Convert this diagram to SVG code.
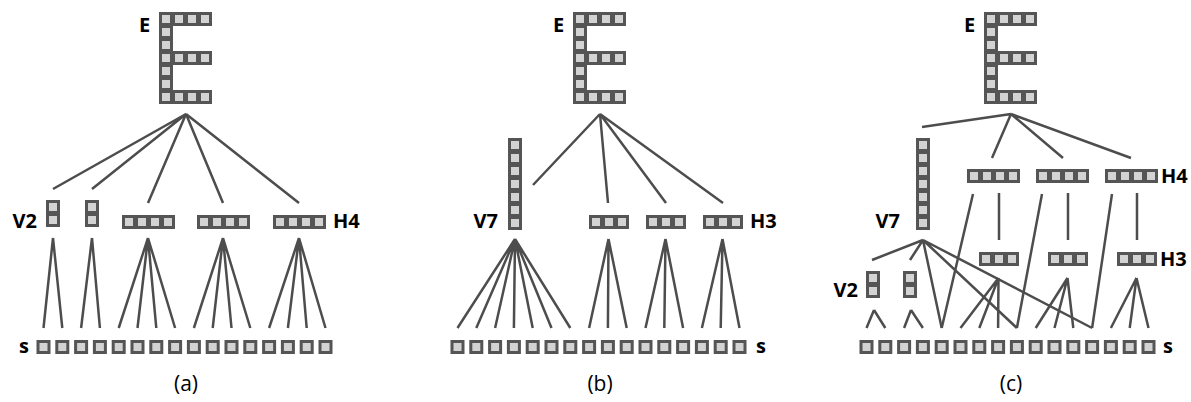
<svg xmlns="http://www.w3.org/2000/svg" xmlns:xlink="http://www.w3.org/1999/xlink" width="1191" height="402" viewBox="0 0 1191 402">
  <style>
    .cell { fill: #d3d3d3; stroke: #555555; stroke-width: 3; }
    .edge { stroke: #4d4d4d; stroke-width: 2.5; fill: none; stroke-linecap: butt; }
    .lbl { font-family: "Open Sans", "Noto Sans", sans-serif; font-weight: bold; font-size: 20px; fill: #000; }
    .cap { font-family: "Open Sans", "Noto Sans", sans-serif; font-size: 21px; fill: #000; text-anchor: middle; }
  </style>
  <defs>
    <!-- one grid cell, 14x14 outer -->
    <rect id="cell" class="cell" x="1.5" y="1.5" width="11" height="11"/>
    <!-- letter E built from cells -->
    <g id="glyphE">
      <use href="#cell" x="0" y="0"/><use href="#cell" x="13" y="0"/><use href="#cell" x="26" y="0"/><use href="#cell" x="39" y="0"/>
      <use href="#cell" x="0" y="13"/><use href="#cell" x="0" y="26"/>
      <use href="#cell" x="0" y="39"/><use href="#cell" x="13" y="39"/><use href="#cell" x="26" y="39"/><use href="#cell" x="39" y="39"/>
      <use href="#cell" x="0" y="52"/><use href="#cell" x="0" y="65"/>
      <use href="#cell" x="0" y="78"/><use href="#cell" x="13" y="78"/><use href="#cell" x="26" y="78"/><use href="#cell" x="39" y="78"/>
    </g>
    <g id="bar2v"><use href="#cell" x="0" y="0"/><use href="#cell" x="0" y="13"/></g>
    <g id="bar7v">
      <use href="#cell" x="0" y="0"/><use href="#cell" x="0" y="13"/><use href="#cell" x="0" y="26"/><use href="#cell" x="0" y="39"/>
      <use href="#cell" x="0" y="52"/><use href="#cell" x="0" y="65"/><use href="#cell" x="0" y="78"/>
    </g>
    <g id="bar3h"><use href="#cell" x="0" y="0"/><use href="#cell" x="13" y="0"/><use href="#cell" x="26" y="0"/></g>
    <g id="bar4h"><use href="#cell" x="0" y="0"/><use href="#cell" x="13" y="0"/><use href="#cell" x="26" y="0"/><use href="#cell" x="39" y="0"/></g>
    <!-- sequence of 16 separate cells -->
    <g id="seq">
      <use href="#cell" x="0" y="0"/><use href="#cell" x="18.8" y="0"/><use href="#cell" x="37.6" y="0"/><use href="#cell" x="56.4" y="0"/>
      <use href="#cell" x="75.2" y="0"/><use href="#cell" x="94" y="0"/><use href="#cell" x="112.8" y="0"/><use href="#cell" x="131.6" y="0"/>
      <use href="#cell" x="150.4" y="0"/><use href="#cell" x="169.2" y="0"/><use href="#cell" x="188" y="0"/><use href="#cell" x="206.8" y="0"/>
      <use href="#cell" x="225.6" y="0"/><use href="#cell" x="244.4" y="0"/><use href="#cell" x="263.2" y="0"/><use href="#cell" x="282" y="0"/>
    </g>
  </defs>

  <!-- ===== panel (a) ===== -->
  <g id="a-E"><use href="#glyphE" x="159" y="12"/><text class="lbl" x="139" y="32">E</text></g>
  <g id="a-V2-1"><use href="#bar2v" x="46" y="200"/><text class="lbl" x="37" y="228" text-anchor="end">V2</text></g>
  <g id="a-V2-2"><use href="#bar2v" x="85" y="200"/></g>
  <g id="a-H4-1"><use href="#bar4h" x="122" y="215"/></g>
  <g id="a-H4-2"><use href="#bar4h" x="197" y="215"/></g>
  <g id="a-H4-3"><use href="#bar4h" x="273" y="215"/><text class="lbl" x="333" y="228">H4</text></g>
  <g id="a-s"><use href="#seq" x="36.5" y="340"/><text class="lbl" x="29" y="353" text-anchor="end">s</text></g>
  <g id="a-edges" class="edge">
    <path d="M186 114L53 189M186 114L92 189M186 114L148 203M186 114L223 203M186 114L299 203"/>
    <path d="M53 238L43.5 328M53 238L62.3 328"/>
    <path d="M92 238L81.1 328M92 238L99.9 328"/>
    <path d="M148 238L118.7 328M148 238L137.5 328M148 238L156.3 328M148 238L175.1 328"/>
    <path d="M223 238L193.9 328M223 238L212.7 328M223 238L231.5 328M223 238L250.3 328"/>
    <path d="M299 238L269.1 328M299 238L287.9 328M299 238L306.7 328M299 238L325.5 328"/>
  </g>
  <text class="cap" x="186" y="391">(a)</text>

  <!-- ===== panel (b) ===== -->
  <g id="b-E"><use href="#glyphE" x="573" y="12"/><text class="lbl" x="553" y="32">E</text></g>
  <g id="b-V7"><use href="#bar7v" x="508" y="138"/><text class="lbl" x="498" y="228" text-anchor="end">V7</text></g>
  <g id="b-H3-1"><use href="#bar3h" x="589" y="215"/></g>
  <g id="b-H3-2"><use href="#bar3h" x="646" y="215"/></g>
  <g id="b-H3-3"><use href="#bar3h" x="703" y="215"/><text class="lbl" x="750" y="228">H3</text></g>
  <g id="b-s"><use href="#seq" x="450.5" y="340"/><text class="lbl" x="756" y="353">s</text></g>
  <g id="b-edges" class="edge">
    <path d="M600 114L533 185M600 114L608 203M600 114L666 203M600 114L723 203"/>
    <path d="M515 239L457.5 328M515 239L476.3 328M515 239L495.1 328M515 239L513.9 328M515 239L532.7 328M515 239L551.5 328M515 239L570.3 328"/>
    <path d="M608.5 239L589.1 328M608.5 239L607.9 328M608.5 239L626.7 328"/>
    <path d="M665.5 239L645.5 328M665.5 239L664.3 328M665.5 239L683.1 328"/>
    <path d="M722.5 239L701.9 328M722.5 239L720.7 328M722.5 239L739.5 328"/>
  </g>
  <text class="cap" x="600" y="391">(b)</text>

  <!-- ===== panel (c) ===== -->
  <g id="c-E"><use href="#glyphE" x="984" y="12"/><text class="lbl" x="964" y="32">E</text></g>
  <g id="c-V7"><use href="#bar7v" x="916" y="138"/><text class="lbl" x="900" y="228" text-anchor="end">V7</text></g>
  <g id="c-H4-1"><use href="#bar4h" x="967" y="169"/></g>
  <g id="c-H4-2"><use href="#bar4h" x="1036" y="169"/></g>
  <g id="c-H4-3"><use href="#bar4h" x="1105" y="169"/><text class="lbl" x="1161" y="183">H4</text></g>
  <g id="c-H3-1"><use href="#bar3h" x="979" y="252"/></g>
  <g id="c-H3-2"><use href="#bar3h" x="1048" y="252"/></g>
  <g id="c-H3-3"><use href="#bar3h" x="1117" y="252"/><text class="lbl" x="1160" y="266">H3</text></g>
  <g id="c-V2-1"><use href="#bar2v" x="866" y="271"/><text class="lbl" x="858" y="297" text-anchor="end">V2</text></g>
  <g id="c-V2-2"><use href="#bar2v" x="903" y="271"/></g>
  <g id="c-s"><use href="#seq" x="859.5" y="340"/><text class="lbl" x="1163" y="353">s</text></g>
  <g id="c-edges" class="edge">
    <path d="M1011 114L922 127M1011 114L992 158M1011 114L1063 158M1011 114L1131 158"/>
    <path d="M999 193L999 240M1068 193L1068 240M1137 193L1137 240"/>
    <path d="M973 194L941.7 328M1042 194L1016.9 328M1112 194L1092.1 328"/>
    <path d="M923 240L872 260M923 240L910 260M923 240L941.7 328M923 240L1016.9 328M923 240L1092.1 328"/>
    <path d="M874 310L866.5 328M874 310L885.3 328M911 310L904.1 328M911 310L922.9 328"/>
    <path d="M998.5 278L960.5 328M998.5 278L979.3 328M998.5 278L998.1 328"/>
    <path d="M1067.5 278L1035.7 328M1067.5 278L1054.5 328M1067.5 278L1073.3 328"/>
    <path d="M1136.5 278L1110.9 328M1136.5 278L1129.7 328M1136.5 278L1148.5 328"/>
  </g>
  <text class="cap" x="1011" y="391">(c)</text>
</svg>
